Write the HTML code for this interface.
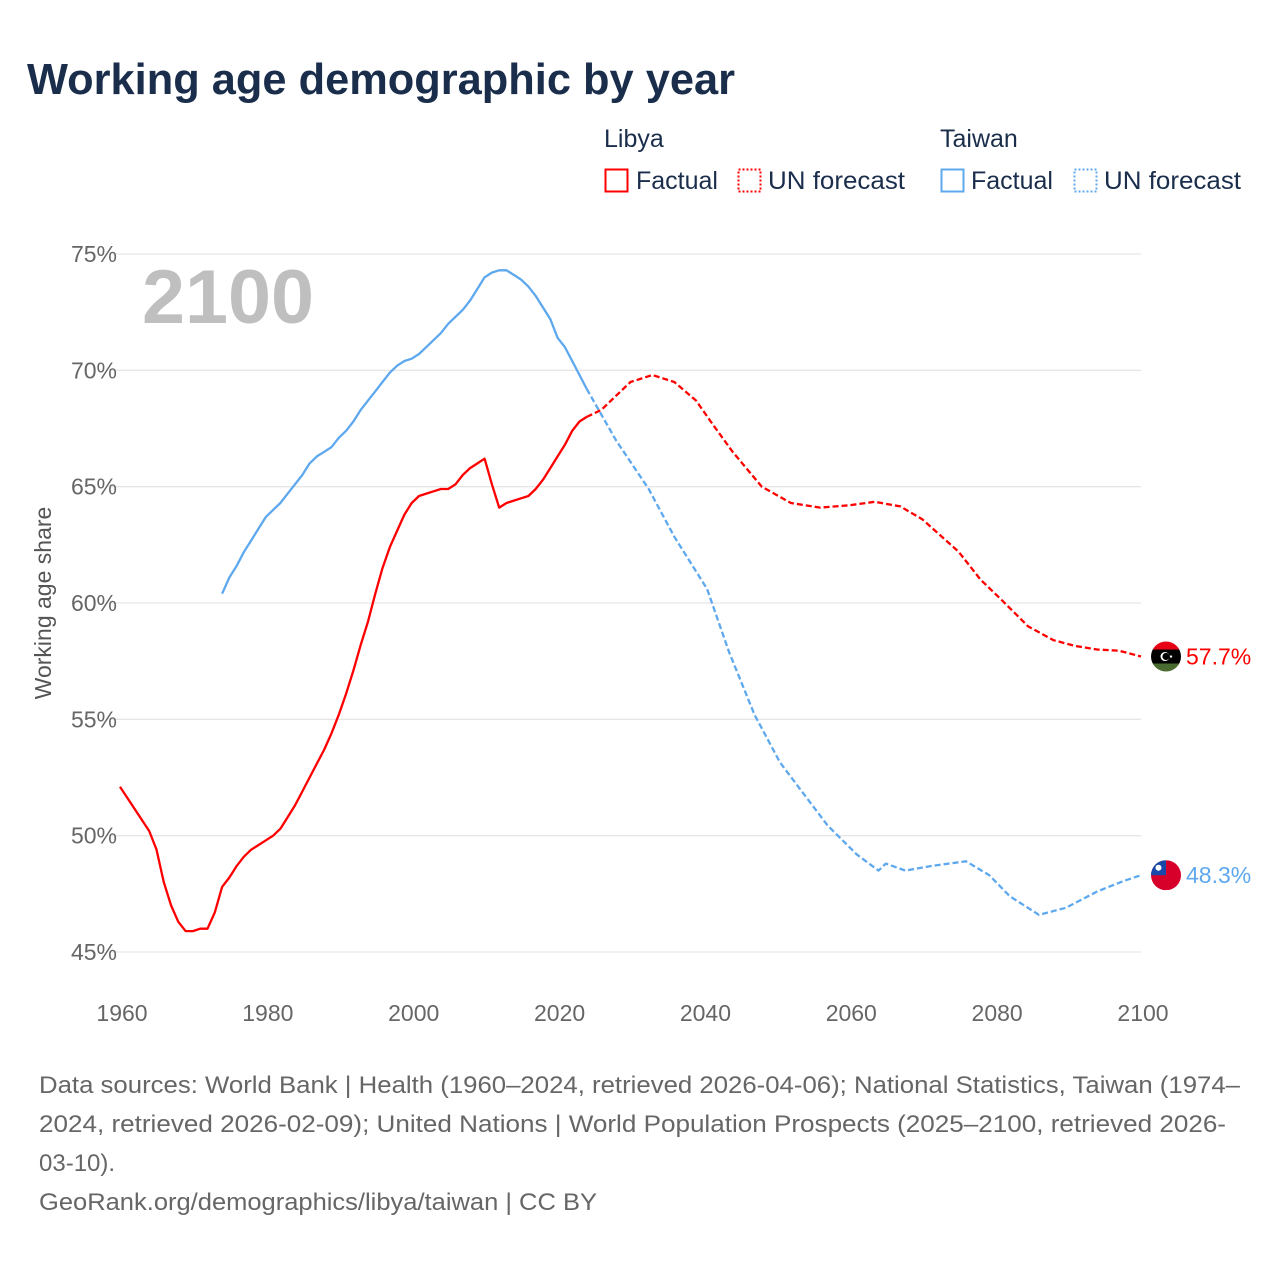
<!DOCTYPE html>
<html><head><meta charset="utf-8"><style>
body{margin:0;background:#fff;font-family:"Liberation Sans",sans-serif;}
#wrap{position:relative;width:1280px;height:1280px;overflow:hidden;background:#fff}
</style></head><body>
<div id="wrap">
<svg id="svg" width="1280" height="1280" xmlns="http://www.w3.org/2000/svg">
<text x="27" y="94" font-size="44" font-weight="bold" fill="#1a2e4c" textLength="708" lengthAdjust="spacingAndGlyphs">Working age demographic by year</text>
<g font-size="25" fill="#1a2e4c">
<text x="604" y="147">Libya</text>
<rect x="605.5" y="169.5" width="22" height="22" fill="none" stroke="#f00" stroke-width="2"/>
<text x="636" y="189">Factual</text>
<rect x="738.5" y="169.5" width="22" height="22" fill="none" stroke="#f00" stroke-width="2" stroke-dasharray="2,2"/>
<text x="768" y="189" textLength="137" lengthAdjust="spacingAndGlyphs">UN forecast</text>
<text x="940" y="147">Taiwan</text>
<rect x="941.5" y="169.5" width="22" height="22" fill="none" stroke="#5ea8ee" stroke-width="2"/>
<text x="971" y="189">Factual</text>
<rect x="1074.5" y="169.5" width="22" height="22" fill="none" stroke="#5ea8ee" stroke-width="2" stroke-dasharray="2,2"/>
<text x="1104" y="189" textLength="137" lengthAdjust="spacingAndGlyphs">UN forecast</text>
</g>
<g id="grid"></g>
<text x="142" y="323" font-size="76" font-weight="bold" fill="#bfbfbf" textLength="172" lengthAdjust="spacingAndGlyphs">2100</text>
<text transform="translate(51,603) rotate(-90)" text-anchor="middle" font-size="23" fill="#555">Working age share</text>
<g id="lines"></g>
<g font-size="24" fill="#666">
<text x="39" y="1093" textLength="1201" lengthAdjust="spacingAndGlyphs">Data sources: World Bank | Health (1960–2024, retrieved 2026-04-06); National Statistics, Taiwan (1974–</text>
<text x="39" y="1132" textLength="1187" lengthAdjust="spacingAndGlyphs">2024, retrieved 2026-02-09); United Nations | World Population Prospects (2025–2100, retrieved 2026-</text>
<text x="39" y="1171">03-10).</text>
<text x="39" y="1210" textLength="558" lengthAdjust="spacingAndGlyphs">GeoRank.org/demographics/libya/taiwan | CC BY</text>
</g>
</svg>
</div>
<script>
const yTicks=[45,50,55,60,65,70,75];
const xTicks=[1960,1980,2000,2020,2040,2060,2080,2100];
const libyaYears=[1960,1964,1965,1966,1967,1968,1969,1970,1971,1972,1973,1974,1975,1976,1977,1978,1979,1980,1981,1982,1983,1984,1985,1986,1987,1988,1989,1990,1991,1992,1993,1994,1995,1996,1997,1998,1999,2000,2001,2002,2003,2004,2005,2006,2007,2008,2009,2010,2011,2012,2013,2014,2015,2016,2017,2018,2019,2020,2021,2022,2023,2024];
const libyaValues=[52.1,50.2,49.4,48.0,47.0,46.3,45.9,45.9,46.0,46.0,46.7,47.8,48.2,48.7,49.1,49.4,49.6,49.8,50.0,50.3,50.8,51.3,51.9,52.5,53.1,53.7,54.4,55.2,56.1,57.1,58.2,59.2,60.4,61.5,62.4,63.1,63.8,64.3,64.6,64.7,64.8,64.9,64.9,65.1,65.5,65.8,66.0,66.2,65.1,64.1,64.3,64.4,64.5,64.6,64.9,65.3,65.8,66.3,66.8,67.4,67.8,68.0];
const libyaFcYears=[2024,2026,2028,2030,2033,2036,2039,2041,2044,2048,2052,2056,2060,2063.5,2067,2070,2075,2078,2081,2084.5,2088,2091,2094,2097,2100];
const libyaFcValues=[68.0,68.3,68.9,69.5,69.8,69.5,68.7,67.8,66.5,65.0,64.3,64.1,64.2,64.35,64.15,63.6,62.2,61.0,60.1,59.0,58.4,58.15,58.0,57.95,57.7];
const taiwanYears=[1974,1975,1976,1977,1978,1979,1980,1981,1982,1983,1984,1985,1986,1987,1988,1989,1990,1991,1992,1993,1994,1995,1996,1997,1998,1999,2000,2001,2002,2003,2004,2005,2006,2007,2008,2009,2010,2011,2012,2013,2014,2015,2016,2017,2018,2019,2020,2021,2022,2023,2024];
const taiwanValues=[60.4,61.1,61.6,62.2,62.7,63.2,63.7,64.0,64.3,64.7,65.1,65.5,66.0,66.3,66.5,66.7,67.1,67.4,67.8,68.3,68.7,69.1,69.5,69.9,70.2,70.4,70.5,70.7,71.0,71.3,71.6,72.0,72.3,72.6,73.0,73.5,74.0,74.2,74.3,74.3,74.1,73.9,73.6,73.2,72.7,72.2,71.4,71.0,70.4,69.8,69.2];
const taiwanFcYears=[2024,2026,2028,2032.5,2036,2040.5,2043.5,2047,2050.5,2053.5,2057,2061,2064,2065,2067.7,2071.3,2076,2079.2,2082,2086,2089.7,2094,2097.6,2100];
const taiwanFcValues=[69.2,68.1,67.0,64.9,62.85,60.6,57.9,55.2,53.15,51.9,50.45,49.2,48.5,48.8,48.5,48.7,48.9,48.3,47.4,46.6,46.9,47.6,48.05,48.3];

const NS='http://www.w3.org/2000/svg';
function xS(yr){return 120+(yr-1960)*(1141-120)/140;}
function yS(v){return 254+(75-v)*(952-254)/30;}
function mk(tag,attrs,parent){const e=document.createElementNS(NS,tag);for(const k in attrs)e.setAttribute(k,attrs[k]);parent.appendChild(e);return e;}
const grid=document.getElementById('grid');
yTicks.forEach(t=>{
  const l=mk('line',{x1:110,x2:1141,y1:yS(t),y2:yS(t),stroke:'#e6e6e6','stroke-width':1.3},grid);
  
  
  const tx=mk('text',{x:117,y:yS(t)+8,'text-anchor':'end','font-size':23,fill:'#666'},grid);
  tx.textContent=t+'%';
  
  
});
xTicks.forEach(t=>{
  const tx=mk('text',{x:xS(t)+2,y:1021,'text-anchor':'middle','font-size':23,fill:'#666'},grid);
  tx.textContent=t;
  
  
});
const lines=document.getElementById('lines');
function path(xs,vs,color,dash,name){
  const d=xs.map((x,i)=>(i?'L':'M')+xS(x).toFixed(1)+','+yS(vs[i]).toFixed(1)).join('');
  const p=mk('path',{d:d,fill:'none',stroke:color,'stroke-width':2.3,'stroke-linejoin':'round'},lines);
  if(dash)p.setAttribute('stroke-dasharray','6,3');
  
  
}
path(libyaYears,libyaValues,'#ff0000',false,'libya-factual-line');
path(libyaFcYears,libyaFcValues,'#ff0000',true,'libya-forecast-line');
path(taiwanYears,taiwanValues,'#5ea8ee',false,'taiwan-factual-line');
path(taiwanFcYears,taiwanFcValues,'#5ea8ee',true,'taiwan-forecast-line');
function endLabel(v,color,name,flag){
  const cx=1166,cy=yS(v);
  const g=mk('g',{},lines);
  
  
  const cp=mk('clipPath',{id:'c'+name},g);mk('circle',{cx:cx,cy:cy,r:15},cp);
  const gg=mk('g',{'clip-path':'url(#c'+name+')'},g);
  if(flag==='ly'){
    mk('rect',{x:cx-15,y:cy-15,width:30,height:8,fill:'#e70013'},gg);
    mk('rect',{x:cx-15,y:cy-7,width:30,height:15,fill:'#000'},gg);
    mk('rect',{x:cx-15,y:cy+7,width:30,height:8,fill:'#4a6b2f'},gg);
    mk('circle',{cx:cx-1,cy:cy,r:4.5,fill:'#fff'},gg);
    mk('circle',{cx:cx,cy:cy,r:3.6,fill:'#000'},gg);
    mk('circle',{cx:cx+5,cy:cy,r:1.2,fill:'#fff'},gg);
  }else{
    mk('rect',{x:cx-15,y:cy-15,width:30,height:30,fill:'#d7002a'},gg);
    mk('rect',{x:cx-15,y:cy-15,width:15,height:15,fill:'#1849a9'},gg);
    mk('circle',{cx:cx-7.5,cy:cy-7.5,r:3,fill:'#fff'},gg);
  }
  const t=mk('text',{x:1186,y:cy+8,'font-size':23,fill:color},lines);
  t.textContent=v.toFixed(1)+'%';
  
  
}
endLabel(libyaFcValues[libyaFcValues.length-1],'#ff0000','libya','ly');
endLabel(taiwanFcValues[taiwanFcValues.length-1],'#5ea8ee','taiwan','tw');
</script>
</body></html>
